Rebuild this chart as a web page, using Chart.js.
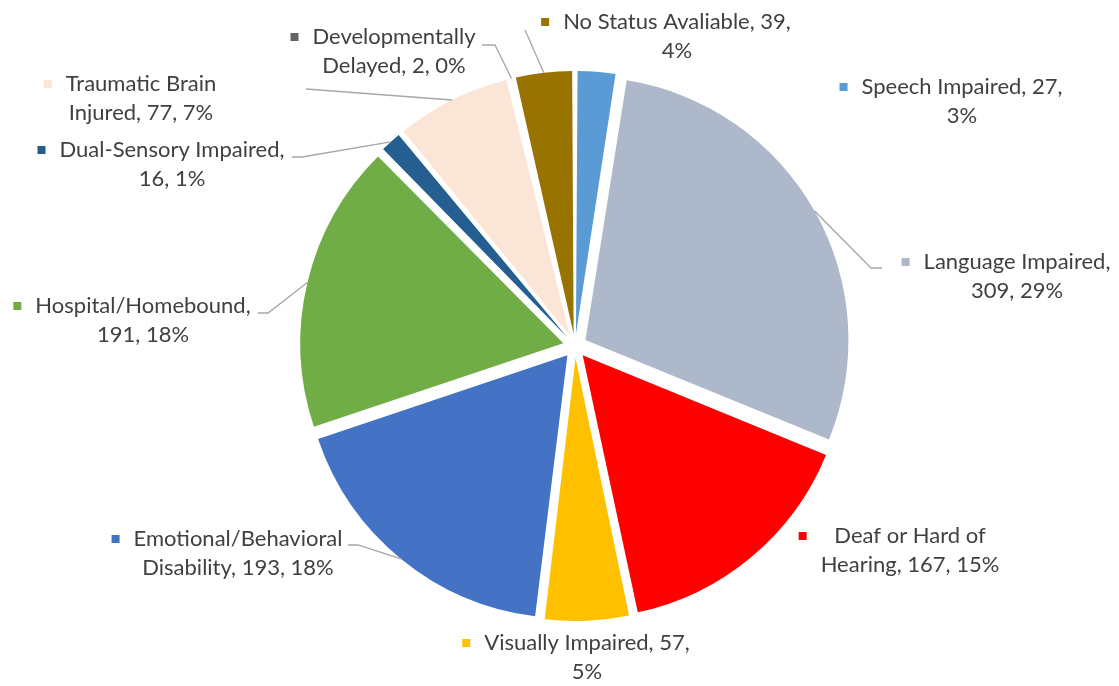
<!DOCTYPE html>
<html lang="en">
<head>
    <meta charset="utf-8">
    <title>Student status</title>
    <script src="https://cdn.jsdelivr.net/npm/chart.js@4.4.0/dist/chart.umd.min.js"></script>
    <style>
        html, body {
            margin: 0;
            padding: 0;
            background: #fff;
        }
    </style>
</head>
<body>
<canvas id="myChart" width="1119" height="686"></canvas>

<script>
    // slices, clockwise from 12 o'clock
    var categories = ['Speech Impaired', 'Language Impaired', 'Deaf or Hard of Hearing',
        'Visually Impaired', 'Emotional/Behavioral Disability', 'Hospital/Homebound',
        'Dual-Sensory Impaired', 'Traumatic Brain Injured', 'Developmentally Delayed',
        'No Status Avaliable'];
    var counts = [27, 309, 167, 57, 193, 191, 16, 77, 2, 39];
    var colours = ['#5B9BD5', '#ADB9CA', '#FF0000', '#FFC000', '#4472C4',
        '#70AD47', '#255E91', '#FBE5D6', '#636363', '#997300'];

    // where each data label sits (block centre, first line) and how many words on line 1
    var labelLayout = [
        {x: 962, y: 87, words: 3},
        {x: 1017, y: 262, words: 2, leader: [[882, 268], [871, 268]]},
        {x: 910, y: 536, words: 4},
        {x: 587, y: 643, words: 3},
        {x: 238, y: 539, words: 1, leader: [[348, 545], [358, 545]]},
        {x: 143, y: 306, words: 1, leader: [[258, 313], [268, 313]]},
        {x: 172, y: 150, words: 2, leader: [[292, 157], [302, 157]]},
        {x: 141, y: 84, words: 2, leader: [[306, 89]]},
        {x: 394, y: 37, words: 1, leader: [[482, 45], [495, 45]]},
        {x: 677, y: 22, words: 4, leader: [[525, 30]]}
    ];

    var explode = 48;   // chart.js moves an arc by offset / 4
    var labelFont = '22px Lato';
    var lineHeight = 29;

    var total = counts.reduce(function (a, b) { return a + b; }, 0);

    // keep every slice the same radius (v4 grows small exploded arcs)
    var evenRadius = {
        id: 'evenRadius',
        afterDatasetUpdate: function (chart, args) {
            var off = explode / 4;
            args.meta.data.forEach(function (arc) {
                var circ = arc.endAngle - arc.startAngle;
                arc.outerRadius -= off * (1 - Math.sin(Math.min(Math.PI, circ)));
            });
        }
    };

    var dataLabels = {
        id: 'dataLabels',
        afterDraw: function (chart) {
            var ctx = chart.ctx;
            var meta = chart.getDatasetMeta(0);
            var R = chart.data.datasets[0].radius;
            ctx.save();
            ctx.font = labelFont;
            ctx.textAlign = 'center';
            ctx.textBaseline = 'middle';
            meta.data.forEach(function (arc, i) {
                var lay = labelLayout[i];
                var pct = Math.round(counts[i] / total * 100);
                var words = (categories[i] + ', ' + counts[i] + ', ' + pct + '%').split(' ');
                var lines = [words.slice(0, lay.words).join(' '), words.slice(lay.words).join(' ')];
                var w = Math.max.apply(null, lines.map(function (l) { return ctx.measureText(l).width; }));

                // leader line
                if (lay.leader) {
                    var mid = (arc.startAngle + arc.endAngle) / 2;
                    var px = arc.x + Math.cos(mid) * (R + explode / 4);
                    var py = arc.y + Math.sin(mid) * (R + explode / 4);
                    ctx.strokeStyle = '#A6A6A6';
                    ctx.lineWidth = 1.3;
                    ctx.beginPath();
                    ctx.moveTo(lay.leader[0][0], lay.leader[0][1]);
                    for (var k = 1; k < lay.leader.length; k++) {
                        ctx.lineTo(lay.leader[k][0], lay.leader[k][1]);
                    }
                    ctx.lineTo(px, py);
                    ctx.stroke();
                }

                // legend key
                ctx.fillStyle = colours[i];
                ctx.fillRect(lay.x - w / 2 - 22, lay.y - 4, 8, 8);

                ctx.fillStyle = '#404040';
                lines.forEach(function (l, j) {
                    ctx.fillText(l, lay.x, lay.y + j * lineHeight);
                });
            });
            ctx.restore();
        }
    };

    var ctx = document.getElementById('myChart').getContext('2d');
    var chart = new Chart(ctx, {
        type: 'pie',
        data: {
            labels: categories,
            datasets: [{
                data: counts,
                backgroundColor: colours,
                borderWidth: 0,
                offset: explode,
                radius: 263
            }]
        },
        options: {
            responsive: false,
            animation: false,
            devicePixelRatio: 1,
            layout: {
                padding: {left: 275, right: 244, top: 46, bottom: 40}
            },
            plugins: {
                legend: {display: false},
                tooltip: {enabled: false}
            }
        },
        plugins: [evenRadius, dataLabels]
    });
</script>
</body>
</html>
